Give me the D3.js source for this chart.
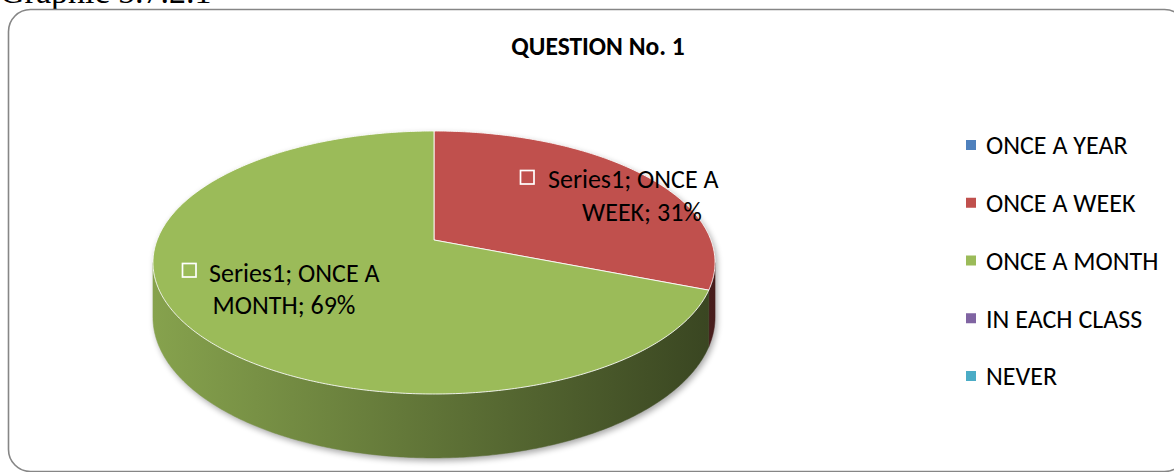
<!DOCTYPE html>
<html>
<head>
<meta charset="utf-8">
<script src="https://cdn.jsdelivr.net/npm/d3@7/dist/d3.min.js"></script>
<style>
  html, body { margin: 0; padding: 0; background: #fff; }
  svg { display: block; }
  text { font-family: Carlito, Calibri, Lato, "Open Sans", sans-serif; fill: #000; }
</style>
</head>
<body>
<svg id="chart" width="1174" height="472"></svg>
<script>
// Answer categories, their share of responses (%), and slice colours
const categories = ["ONCE A YEAR", "ONCE A WEEK", "ONCE A MONTH", "IN EACH CLASS", "NEVER"];
const values = [0, 31, 69, 0, 0];
const colors = ["#4F81BD", "#C0504D", "#9BBB59", "#8064A2", "#4BACC6"];
const seriesName = "Series1";
const chartTitle = "QUESTION No. 1";
const caption = "Graphic 5.7.2.1";

const W = 1174, H = 472;
const FONT = "26px";
const svg = d3.select("#chart");
const defs = svg.append("defs");

// Caption above the chart frame (partly clipped by the page edge)
svg.append("text")
  .attr("x", 0).attr("y", 3)
  .style("font-family", "'Liberation Serif', 'Times New Roman', serif")
  .style("font-size", "34px")
  .text(caption);

// Chart frame
svg.append("rect")
  .attr("x", 8.5).attr("y", 9.5)
  .attr("width", 1178).attr("height", 462)
  .attr("rx", 22).attr("ry", 22)
  .attr("fill", "#fff")
  .attr("stroke", "#868686").attr("stroke-width", 1.6);

// Title
svg.append("text")
  .attr("x", 598).attr("y", 55)
  .attr("text-anchor", "middle")
  .style("font-size", "25.5px").style("font-weight", "bold")
  .text(chartTitle);

// ---- 3D pie in perspective ----
// Disk centre on screen, horizontal/vertical radii, perspective factor and wall thickness
const P = { cx: 434, cy: 240, A: 276.9, B: 127.65, k: 0.1711, depth: 53 };

// angle a: d3.pie angle (clockwise from 12 o'clock); r: radial fraction; d: drop below top face
function project(a, r, d) {
  const u = r * Math.sin(a);      // to the right
  const v = r * Math.cos(a);      // away from the viewer
  const w = 1 + P.k * v;
  return [P.cx + P.A * u / w, P.cy + (-P.B * v + d) / w];
}

const pie = d3.pie().sort(null).value(d => d.value).startAngle(0).endAngle(2 * Math.PI);
const data = categories.map((c, i) => ({ cat: c, value: values[i], color: colors[i] }));
const arcs = pie(data).filter(s => s.value > 0);

const line = d3.line();
function rimPoints(a0, a1, d) {
  const n = Math.max(2, Math.ceil(Math.abs(a1 - a0) / 0.01));
  return d3.range(n + 1).map(i => project(a0 + (a1 - a0) * i / n, 1, d));
}

// The front part of the rim faces the viewer where cos(a) < -k
const visA0 = Math.acos(-P.k), visA1 = 2 * Math.PI - Math.acos(-P.k);

// Soft shadow under the disk
const shadow = defs.append("filter").attr("id", "shadow")
  .attr("x", "-10%").attr("y", "-10%").attr("width", "120%").attr("height", "130%");
shadow.append("feGaussianBlur").attr("stdDeviation", 3);

const silhouette = rimPoints(visA0, visA1, P.depth)
  .concat(rimPoints(visA1, visA0 + 2 * Math.PI, 0));
svg.append("path")
  .attr("d", line(silhouette) + "Z")
  .attr("transform", "translate(2,3)")
  .attr("fill", "#000").attr("opacity", 0.35)
  .attr("filter", "url(#shadow)");

const gPie = svg.append("g");

// Side walls, shaded from left to right
arcs.forEach((s, i) => {
  const a0 = Math.max(s.startAngle, visA0), a1 = Math.min(s.endAngle, visA1);
  if (a1 <= a0) return;
  const base = d3.color(s.data.color);
  const gid = "side" + i;
  const lg = defs.append("linearGradient").attr("id", gid)
    .attr("gradientUnits", "userSpaceOnUse")
    .attr("x1", P.cx - P.A * 1.015).attr("x2", P.cx + P.A * 1.015)
    .attr("y1", 0).attr("y2", 0);
  lg.append("stop").attr("offset", 0).attr("stop-color", base.darker(0.4));
  lg.append("stop").attr("offset", 1).attr("stop-color", base.darker(2.8));
  const pts = rimPoints(a0, a1, 0).concat(rimPoints(a1, a0, P.depth));
  gPie.append("path")
    .attr("d", line(pts) + "Z")
    .attr("fill", `url(#${gid})`)
    .attr("stroke", `url(#${gid})`).attr("stroke-width", 0.5);
});

// Top faces
arcs.forEach(s => {
  const pts = [project(0, 0, 0)].concat(rimPoints(s.startAngle, s.endAngle, 0));
  gPie.append("path")
    .attr("d", line(pts) + "Z")
    .attr("fill", s.data.color)
    .attr("stroke", "#fff").attr("stroke-opacity", 0.85).attr("stroke-width", 1);
});

// Data labels: key box, "Series1; <category>; <value>%" wrapped over two lines
const labelPlacement = {
  "ONCE A WEEK":  { box: [520, 170], line1: 548, base1: 188, mid2: 642, base2: 221 },
  "ONCE A MONTH": { box: [182, 263], line1: 209, base1: 282, mid2: 284, base2: 314 }
};
const fmt = v => Math.round(v) + "%";
arcs.forEach(s => {
  const pl = labelPlacement[s.data.cat];
  if (!pl) return;
  const words = s.data.cat.split(" ");
  const first = seriesName + "; " + words.slice(0, -1).join(" ");
  const second = words[words.length - 1] + "; " + fmt(s.value);
  const g = svg.append("g");
  g.append("rect")
    .attr("x", pl.box[0] + 0.5).attr("y", pl.box[1] + 0.5)
    .attr("width", 13.5).attr("height", 13.5)
    .attr("fill", "none").attr("stroke", "#fff").attr("stroke-width", 1.7);
  g.append("text").attr("x", pl.line1).attr("y", pl.base1)
    .style("font-size", FONT).text(first);
  g.append("text").attr("x", pl.mid2).attr("y", pl.base2)
    .attr("text-anchor", "middle")
    .style("font-size", FONT).text(second);
});

// Legend
const ly = d3.scalePoint().domain(categories).range([145, 376]);
const legend = svg.append("g");
categories.forEach((c, i) => {
  legend.append("rect")
    .attr("x", 966).attr("y", ly(c) - 5)
    .attr("width", 10).attr("height", 10)
    .attr("fill", colors[i]);
  legend.append("text")
    .attr("x", 986).attr("y", ly(c))
    .attr("dy", "0.36em")
    .style("font-size", FONT)
    .text(c);
});
</script>
</body>
</html>
